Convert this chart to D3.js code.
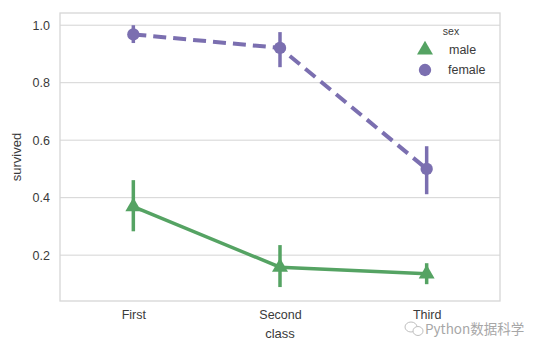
<!DOCTYPE html>
<html>
<head>
<meta charset="utf-8">
<script src="https://cdn.jsdelivr.net/npm/d3@7"></script>
<style>
  body { margin: 0; background: #fff; }
  text { font-family: "Liberation Sans", Arial, sans-serif; }
</style>
</head>
<body>
<svg id="chart"></svg>
<script>
const classes = ["First", "Second", "Third"];
const maleMean = [0.369, 0.158, 0.135];
const maleLow = [0.283, 0.089, 0.099];
const maleHigh = [0.461, 0.235, 0.172];
const femaleMean = [0.968, 0.921, 0.5];
const femaleLow = [0.938, 0.854, 0.412];
const femaleHigh = [1.0, 0.976, 0.579];
const yTicks = [0.2, 0.4, 0.6, 0.8, 1.0];

let svgWidth = 546, svgHeight = 352;
let plotLeft = 60, plotRight = 500, plotTop = 13, plotBottom = 301;

let svg = d3.select('#chart')
    .attr('width', svgWidth)
    .attr('height', svgHeight);

let x = d3.scalePoint()
    .domain(classes)
    .range([plotLeft, plotRight])
    .padding(0.5);
let y = d3.scaleLinear()
    .domain([0.0405, 1.0425])
    .range([plotBottom, plotTop]);

// grid
svg.append('g').selectAll('line')
    .data(yTicks).enter().append('line')
    .attr('x1', plotLeft).attr('x2', plotRight)
    .attr('y1', d => y(d)).attr('y2', d => y(d))
    .attr('stroke', '#d4d4d4').attr('stroke-width', 1);

// frame
svg.append('rect')
    .attr('x', plotLeft).attr('y', plotTop)
    .attr('width', plotRight - plotLeft).attr('height', plotBottom - plotTop)
    .attr('fill', 'none').attr('stroke', '#d6d6d6').attr('stroke-width', 1.3);

// axes
let axLeft = d3.axisLeft(y).tickValues(yTicks).tickFormat(d3.format('.1f')).tickSize(0).tickPadding(10);
let gl = svg.append('g').attr('transform', 'translate(' + plotLeft + ',0)').call(axLeft);
gl.select('.domain').remove();
gl.selectAll('text').attr('font-size', 12.5).attr('fill', '#3a3a3a')
    .style('font-family', '"Liberation Sans", Arial, sans-serif');

let axBottom = d3.axisBottom(x).tickSize(0).tickPadding(9);
let gb = svg.append('g').attr('transform', 'translate(0,' + plotBottom + ')').call(axBottom);
gb.select('.domain').remove();
gb.selectAll('text').attr('font-size', 12.5).attr('fill', '#3a3a3a')
    .style('font-family', '"Liberation Sans", Arial, sans-serif');

svg.append('text')
    .attr('x', x('Second')).attr('y', 338)
    .attr('text-anchor', 'middle').attr('font-size', 13).attr('fill', '#3a3a3a')
    .text('class');
svg.append('text')
    .attr('transform', 'translate(21,' + ((plotTop + plotBottom) / 2) + ') rotate(-90)')
    .attr('text-anchor', 'middle').attr('font-size', 13).attr('fill', '#3a3a3a')
    .text('survived');

let drawSeries = function(mean, low, high, color, dashed, marker) {
    let g = svg.append('g');
    let line = d3.line()
        .x((d, i) => x(classes[i]))
        .y(d => y(d));
    g.append('path')
        .attr('d', line(mean))
        .attr('fill', 'none')
        .attr('stroke', color)
        .attr('stroke-width', dashed ? 4 : 3.5)
        .attr('stroke-dasharray', dashed ? '13,7' : null);
    g.selectAll('line.ci')
        .data(classes).enter().append('line')
        .attr('x1', d => x(d)).attr('x2', d => x(d))
        .attr('y1', (d, i) => y(low[i])).attr('y2', (d, i) => y(high[i]))
        .attr('stroke', color).attr('stroke-width', 3.5);
    g.selectAll('path.m')
        .data(classes).enter().append('path')
        .attr('class', 'm')
        .attr('d', d3.symbol().type(marker).size(marker === d3.symbolCircle ? 120 : 110))
        .attr('transform', (d, i) => 'translate(' + x(d) + ',' + y(mean[i]) + ')')
        .attr('fill', color);
};

drawSeries(femaleMean, femaleLow, femaleHigh, '#7b6fb0', true, d3.symbolCircle);
drawSeries(maleMean, maleLow, maleHigh, '#55a363', false, d3.symbolTriangle);

// legend
let lg = svg.append('g');
lg.append('text').attr('x', 451).attr('y', 35).attr('text-anchor', 'middle')
    .attr('font-size', 10.5).attr('fill', '#3a3a3a').text('sex');
lg.append('path').attr('d', d3.symbol().type(d3.symbolTriangle).size(110))
    .attr('transform', 'translate(425,50)').attr('fill', '#55a363');
lg.append('text').attr('x', 449).attr('y', 54).attr('font-size', 12.5).attr('fill', '#3a3a3a').text('male');
lg.append('path').attr('d', d3.symbol().type(d3.symbolCircle).size(120))
    .attr('transform', 'translate(425,70)').attr('fill', '#7b6fb0');
lg.append('text').attr('x', 448).attr('y', 74).attr('font-size', 12.5).attr('fill', '#3a3a3a').text('female');

// watermark
let wm = svg.append('g').attr('opacity', 0.75);
wm.append('ellipse').attr('cx', 411).attr('cy', 327).attr('rx', 6).attr('ry', 5)
    .attr('fill', 'none').attr('stroke', '#aaa').attr('stroke-width', 1);
wm.append('ellipse').attr('cx', 418).attr('cy', 331).attr('rx', 5).attr('ry', 4.5)
    .attr('fill', '#fff').attr('stroke', '#aaa').attr('stroke-width', 1);
wm.append('text').attr('x', 425).attr('y', 334).attr('font-size', 13.5).attr('fill', '#8a8a8a')
    .style('font-family', '"Noto Sans CJK SC", "Liberation Sans", sans-serif')
    .text('Python数据科学');
</script>
</body>
</html>
